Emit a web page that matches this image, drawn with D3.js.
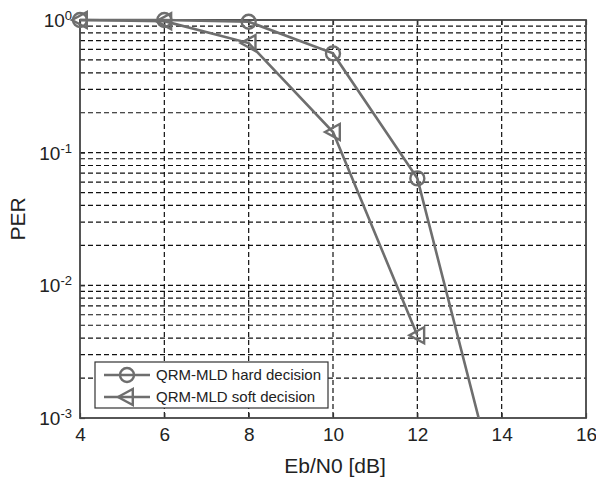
<!DOCTYPE html>
<html><head><meta charset="utf-8">
<script src="https://cdn.jsdelivr.net/npm/d3@7"></script>
<style>body{margin:0;background:#fff}svg{display:block}text{font-family:"Liberation Sans",Arial,sans-serif;fill:#222}</style>
</head><body><svg id="c" width="596" height="478"></svg>
<script>
const ebn0 = [4, 6, 8, 10, 12, 14];
const hardPER = [1.0, 1.0, 0.97, 0.56, 0.064, 0.00021];
const softPER = [1.0, 0.98, 0.67, 0.143, 0.0042];
const seriesNames = ["QRM-MLD hard decision", "QRM-MLD soft decision"];
const xTicks = [4, 6, 8, 10, 12, 14, 16];
const yTicks = [1, 0.1, 0.01, 0.001];
const yTickExp = ["0", "-1", "-2", "-3"];

const svg = d3.select("#c");
const m = {l: 80, r: 586, t: 20, b: 418};
const x = d3.scaleLinear().domain([4, 16]).range([m.l, m.r]);
const y = d3.scaleLog().domain([1e-3, 1]).range([m.b, m.t]);
const col = "#6e6e6e";

// grid
const g = svg.append("g");
const minor = [];
for (let e = -3; e < 0; e++) for (let k = 1; k <= 9; k++) { const v = k * Math.pow(10, e); if (v > 1e-3 && v < 1) minor.push(v); }
g.selectAll(".hg").data(minor).join("line")
  .attr("x1", m.l).attr("x2", m.r).attr("y1", d => y(d)).attr("y2", d => y(d))
  .attr("stroke", "#111").attr("stroke-width", 1.2).attr("stroke-dasharray", "5,3");
g.selectAll(".vg").data(xTicks.slice(1, -1)).join("line")
  .attr("x1", d => x(d)).attr("x2", d => x(d)).attr("y1", m.t).attr("y2", m.b)
  .attr("stroke", "#111").attr("stroke-width", 1.2).attr("stroke-dasharray", "5,3");

// axes
const xa = svg.append("g").attr("transform", `translate(0,${m.b})`)
  .call(d3.axisBottom(x).tickValues(xTicks).tickSize(-5).tickPadding(10).tickFormat(d3.format("d")));
xa.select(".domain").remove();
xa.selectAll("text").attr("font-size", 19).attr("fill", "#222");
xa.selectAll("line").attr("stroke", "#333").attr("stroke-width", 1.2);
const xt = svg.append("g").attr("transform", `translate(0,${m.t})`)
  .call(d3.axisTop(x).tickValues(xTicks).tickSize(-5).tickFormat(""));
xt.select(".domain").remove();
xt.selectAll("line").attr("stroke", "#333").attr("stroke-width", 1.2);

const ya = svg.append("g").attr("transform", `translate(${m.l},0)`)
  .call(d3.axisLeft(y).tickValues(yTicks).tickSize(-5).tickFormat(""));
ya.select(".domain").remove();
ya.selectAll("line").attr("stroke", "#333").attr("stroke-width", 1.2);
ya.selectAll(".tick").each(function(d, i) {
  const t = d3.select(this).append("text").attr("x", -8).attr("dy", "0.35em")
    .attr("text-anchor", "end").attr("font-size", 19).attr("fill", "#222");
  t.append("tspan").text("10");
  t.append("tspan").attr("dy", "-0.55em").attr("font-size", 13).text(yTickExp[i]);
});

svg.append("rect").attr("x", m.l).attr("y", m.t).attr("width", m.r - m.l).attr("height", m.b - m.t)
  .attr("fill", "none").attr("stroke", "#444").attr("stroke-width", 1.8);

// labels
svg.append("text").attr("x", (m.l + m.r) / 2 + 2).attr("y", 473).attr("text-anchor", "middle")
  .attr("font-size", 21).text("Eb/N0 [dB]");
svg.append("text").attr("transform", `translate(25,${(m.t + m.b) / 2}) rotate(-90)`)
  .attr("text-anchor", "middle").attr("font-size", 21).text("PER");

// clip
svg.append("clipPath").attr("id", "clp").append("rect")
  .attr("x", m.l - 20).attr("y", m.t - 20).attr("width", m.r - m.l + 40).attr("height", m.b - m.t + 20);

const line = d3.line().x(d => x(d[0])).y(d => y(d[1]));
const hard = ebn0.map((e, i) => [e, hardPER[i]]);
const soft = softPER.map((v, i) => [ebn0[i], v]);
const plot = svg.append("g").attr("clip-path", "url(#clp)");
plot.append("path").datum(hard).attr("d", line).attr("fill", "none").attr("stroke", col).attr("stroke-width", 2.6);
plot.append("path").datum(soft).attr("d", line).attr("fill", "none").attr("stroke", col).attr("stroke-width", 2.6);

const tri = (cx, cy, s) => `M${cx - s},${cy} L${cx + s * 0.85},${cy - s} L${cx + s * 0.85},${cy + s} Z`;
plot.selectAll(".c").data(hard.filter(d => d[1] >= 1e-3)).join("circle")
  .attr("cx", d => x(d[0])).attr("cy", d => y(d[1])).attr("r", 7)
  .attr("fill", "none").attr("stroke", col).attr("stroke-width", 2.4);
plot.selectAll(".t").data(soft).join("path")
  .attr("d", d => tri(x(d[0]), y(d[1]), 8))
  .attr("fill", "none").attr("stroke", col).attr("stroke-width", 2.4);

// legend
const lg = svg.append("g");
lg.append("rect").attr("x", 95).attr("y", 362).attr("width", 233).attr("height", 46)
  .attr("fill", "#fff").attr("stroke", "#333").attr("stroke-width", 1.2);
[0, 1].forEach(i => {
  const ly = 375 + i * 22;
  lg.append("line").attr("x1", 104).attr("x2", 150).attr("y1", ly).attr("y2", ly)
    .attr("stroke", col).attr("stroke-width", 2.6);
  if (i === 0) lg.append("circle").attr("cx", 127).attr("cy", ly).attr("r", 7)
    .attr("fill", "none").attr("stroke", col).attr("stroke-width", 2.4);
  else lg.append("path").attr("d", tri(126, ly, 8)).attr("fill", "none").attr("stroke", col).attr("stroke-width", 2.4);
  lg.append("text").attr("x", 156).attr("y", ly).attr("dy", "0.35em").attr("font-size", 15).text(seriesNames[i]);
});
</script></body></html>
